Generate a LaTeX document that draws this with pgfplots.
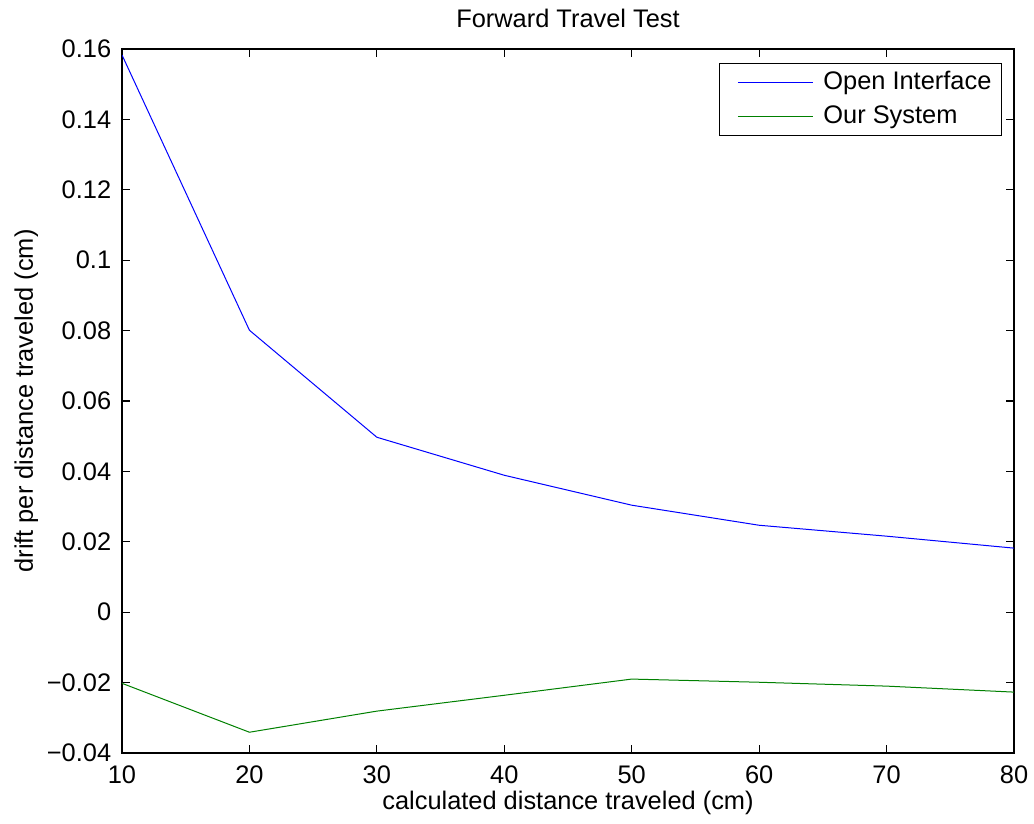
\documentclass[border=0pt]{standalone}
\usepackage{fontspec}
\setmainfont{Liberation Sans}
\usepackage{pgfplots}
\pgfplotsset{compat=1.18}
\definecolor{mblue}{RGB}{0,0,255}
\definecolor{mgreen}{RGB}{0,128,0}
\newcommand{\fs}{\fontsize{12.7}{14.5}\selectfont}
\begin{document}
\fs
\begin{tikzpicture}
\begin{axis}[
  scale only axis,
  width=446pt, height=352pt,
  xmin=10, xmax=80, ymin=-0.04, ymax=0.16,
  xtick={10,20,...,80},
  ytick={-0.04,-0.02,0,0.02,0.04,0.06,0.08,0.1,0.12,0.14,0.16},
  yticklabels={−0.04,−0.02,0,0.02,0.04,0.06,0.08,0.1,0.12,0.14,0.16},
  scaled y ticks=false,
  yticklabel style={xshift=-1pt},
  xticklabel style={inner sep=0.5pt, yshift=-5.5pt},
  /pgf/number format/assume math mode=true,
  tick align=inside,
  major tick length=4.2pt,
  axis line style={line width=1pt},
  every tick/.style={black, line width=0.6pt},
  tick label style={font=\fs},
  label style={font=\fs},
  title={Forward Travel Test},
  title style={at={(axis description cs:0.5,1)}, anchor=base, yshift=4.5pt, font=\fs},
  xlabel={calculated distance traveled (cm)},
  xlabel style={at={(axis description cs:0.5,0)}, anchor=base, inner sep=0.5pt, yshift=-28pt},
  ylabel={drift per distance traveled (cm)},
  ylabel style={at={(axis description cs:-0.0998,0.5)}, anchor=base},
  legend style={at={(axis description cs:1,1)}, anchor=north east, xshift=-6pt, yshift=-7pt,
    draw=black, line width=0.6pt, font=\fs, inner xsep=3pt, inner ysep=2pt,
    row sep=2pt},
  legend cell align=left,
  legend image code/.code={\path (-6pt,0pt) (40.5pt,0pt); \draw[#1, line width=0.5pt] (0pt,0pt) -- (37.5pt,0pt);},
]
\addplot[mblue, line width=0.5pt] coordinates {
(10,0.1583) (20,0.0801) (30,0.0497) (40,0.0389) (50,0.0304) (60,0.0247) (70,0.0216) (80,0.0182)};
\addlegendentry{Open Interface}
\addplot[mgreen, line width=0.5pt] coordinates {
(10,-0.0202) (20,-0.0341) (30,-0.0281) (40,-0.0236) (50,-0.0190) (60,-0.0199) (70,-0.0210) (80,-0.0227)};
\addlegendentry{Our System}
\end{axis}
\pgfresetboundingbox
\path ([shift={(-61pt,-35pt)}]current axis.south west) rectangle ([shift={(10pt,24.5pt)}]current axis.north east);
\end{tikzpicture}
\end{document}
